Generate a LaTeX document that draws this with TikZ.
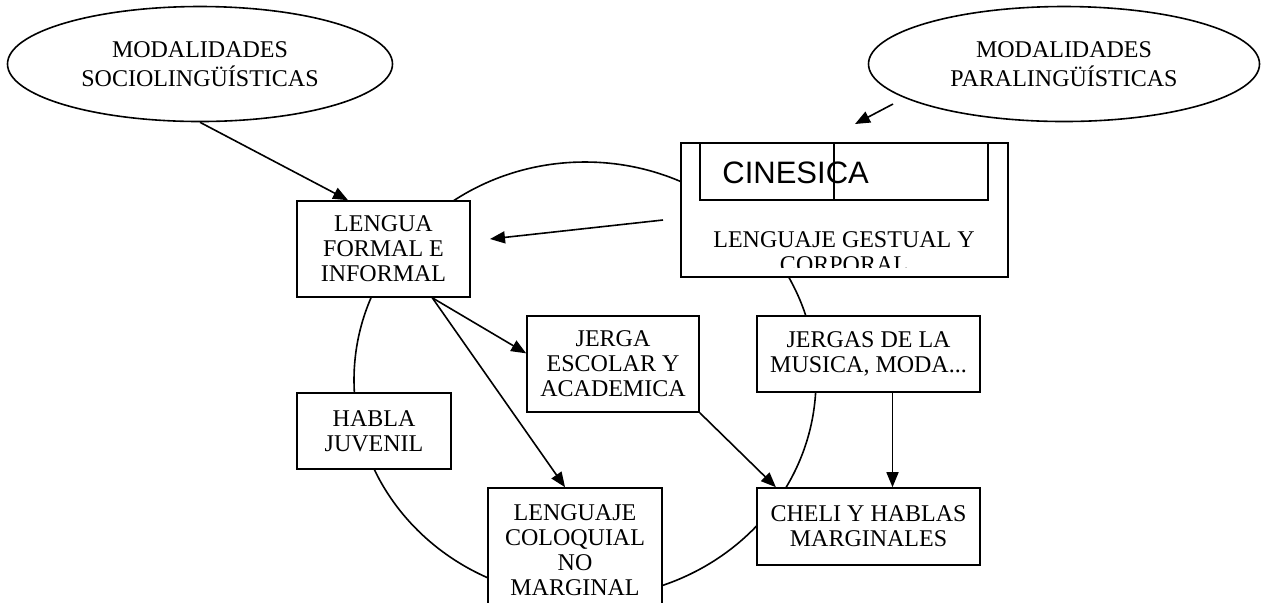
\documentclass[tikz,border=0pt]{standalone}
\usepackage{fontspec}
\setmainfont{Liberation Serif}
\newfontfamily\fonteArial{Liberation Sans}
\usetikzlibrary{arrows.meta,shapes.geometric}
\tikzset{
    caixa/.style={
        rectangle,
        draw,
        fill=white,
        align=center,
        inner sep=0pt,
        line width=0.8pt
    },
    modalidade/.style={
        ellipse,
        draw,
        fill=white,
        align=center,
        inner sep=0pt,
        line width=0.8pt,
        minimum width=192.5pt,
        minimum height=57.5pt,
        font=\fontsize{12pt}{14.5pt}\selectfont
    },
    fluxo/.style={-{Triangle[length=7.5pt, width=6pt]}, line width=0.8pt},
    ciclo/.style={draw, line width=0.8pt}
}

\begin{document}
\begin{tikzpicture}[x=0.5pt, y=-0.5pt, font=\fontsize{12pt}{12.5pt}\selectfont]
        \useasboundingbox (0,0) rectangle (1262,602);
        \draw[ciclo] (585,380) ellipse [x radius=115.5pt, y radius=109pt];

        \node[modalidade] (socio) at (200,64) {MODALIDADES\\SOCIOLINGÜÍSTICAS};
        \node[modalidade, minimum width=195.5pt] (para) at (1064,64)
            {MODALIDADES\\PARALINGÜÍSTICAS};

        \node[caixa, minimum width=163.5pt, minimum height=67pt] (cinesica) at (844.5,210) {};
        \node[caixa, minimum width=144pt, minimum height=28.5pt] (cinesicaTit) at (844,171.5) {};
        \draw[line width=0.8pt] ([xshift=-5pt]cinesicaTit.north) -- ([xshift=-5pt]cinesicaTit.south);
        \node[anchor=base west, inner sep=0pt, font=\fonteArial\fontsize{15.5pt}{18pt}\selectfont]
            (cinesicaTxt) at (722,183) {CINESICA};
        \begin{scope}
            \clip (681,143) rectangle (1008,267);
            \node[align=center, inner sep=0pt] (gestual) at (844,252.5)
                {LENGUAJE GESTUAL Y\\CORPORAL};
        \end{scope}

        \node[caixa, minimum width=86.5pt, minimum height=48pt] (lengua) at (383.5,249)
            {LENGUA\\FORMAL E\\INFORMAL};
        \node[caixa, minimum width=86pt, minimum height=48pt] (jerga) at (613,364)
            {JERGA\\ESCOLAR Y\\ACADEMICA};
        \node[caixa, minimum width=77pt, minimum height=38pt] (habla) at (374,431)
            {HABLA\\JUVENIL};
        \node[caixa, minimum width=87pt, minimum height=62pt] (lenguaje) at (575,550)
            {LENGUAJE\\COLOQUIAL\\NO\\MARGINAL};
        \node[caixa, minimum width=111.5pt, minimum height=38pt] (jergas) at (868.5,354)
            {JERGAS DE LA\\MUSICA, MODA...};
        \node[caixa, minimum width=111.5pt, minimum height=38.5pt] (cheli) at (868.5,526.5)
            {CHELI Y HABLAS\\MARGINALES};

        \coordinate (paraSeta) at (893,104);
        \coordinate (paraPonta) at (855,124);
        \coordinate (gestoSeta) at (663,220);
        \coordinate (gestoPonta) at (490,239);

        \draw[fluxo] (socio.south) -- (lengua.126);
        \draw[fluxo] (paraSeta) -- (paraPonta);
        \draw[fluxo] (gestoSeta) -- (gestoPonta);
        \draw[fluxo] (lengua.-45) -- (jerga.173);
        \draw[fluxo] (lengua.-45) -- (lenguaje.99);
        \draw[fluxo] (jerga.south east) -- (cheli.157);
        \draw[fluxo] ([xshift=12pt]jergas.south) -- ([xshift=12pt]cheli.north);
    \end{tikzpicture}
\end{document}
